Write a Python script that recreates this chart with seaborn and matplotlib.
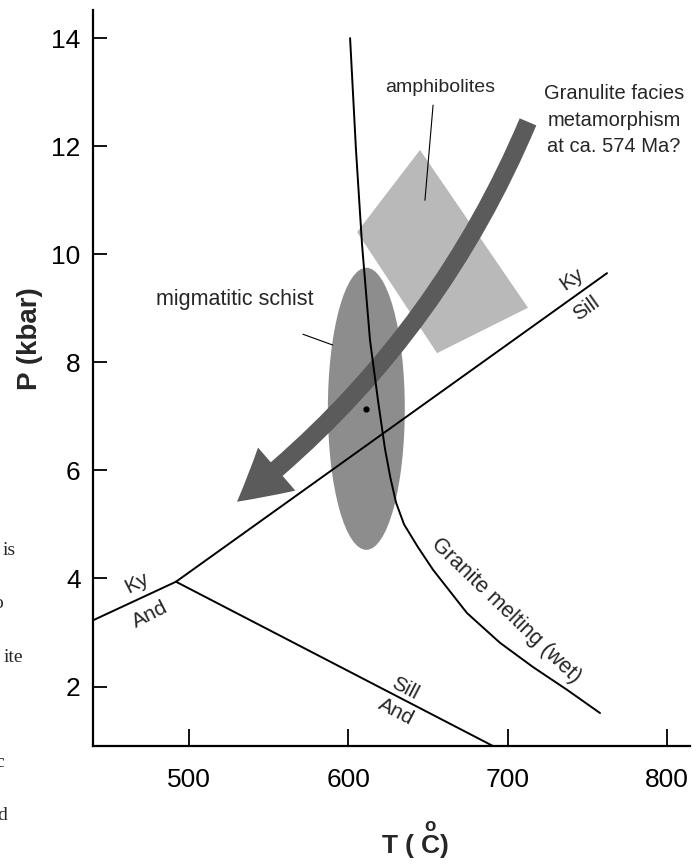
import numpy as np
import seaborn as sns
import matplotlib.pyplot as plt
from matplotlib.patches import Ellipse, FancyArrowPatch

# reaction lines (T in C, P in kbar)
ky_and_T = [440.0, 491.8]
ky_and_P = [3.23, 3.94]
ky_sill_T = [491.8, 762.4]
ky_sill_P = [3.94, 9.65]
and_sill_T = [491.8, 690.8]
and_sill_P = [3.94, 0.90]

# wet granite solidus
granite_T = [601.1, 604.8, 608.6, 613.6, 618.6, 623.0, 626.5, 630.0, 635.0, 643.7,
             653.2, 674.5, 695.2, 716.0, 737.3, 758.0]
granite_P = [14.00, 11.93, 10.18, 8.41, 7.30, 6.40, 5.85, 5.40, 5.00, 4.58,
             4.16, 3.36, 2.81, 2.36, 1.94, 1.51]

# amphibolite field
amph_T = [645.0, 712.8, 655.7, 605.5]
amph_P = [11.93, 9.01, 8.17, 10.41]

# migmatitic schist field (centre, width, height)
schist_center = (611.3, 7.14)
schist_w = 48.3
schist_h = 5.22

# granulite P-T path (start -> end)
path_start = (712.8, 12.45)
path_end = (530.1, 5.42)

x_ticks = [500, 600, 700, 800]
y_ticks = [2, 4, 6, 8, 10, 12, 14]

sns.set_style('ticks')
plt.rcParams['font.family'] = ['Liberation Sans', 'DejaVu Sans']
plt.rcParams['mathtext.fontset'] = 'custom'
plt.rcParams['mathtext.rm'] = 'Liberation Sans'
plt.rcParams['mathtext.bf'] = 'Liberation Sans:bold'

fig = plt.figure(figsize=(7, 8.64), dpi=100)
ax = fig.add_axes([93 / 700, 118 / 864, 597 / 700, 736 / 864])

ax.fill(amph_T, amph_P, color='#b9b9b9', lw=0, zorder=1)
ax.add_patch(Ellipse(schist_center, schist_w, schist_h, color='#8d8d8d', lw=0, zorder=1))

arrow = FancyArrowPatch(posA=path_start, posB=path_end,
                        connectionstyle='arc3,rad=-0.13',
                        arrowstyle='simple,head_width=41,head_length=37,tail_width=13',
                        mutation_scale=1, shrinkA=0, shrinkB=0,
                        color='#5b5b5b', lw=0, zorder=2)
ax.add_patch(arrow)

for tt, pp in [(ky_and_T, ky_and_P), (ky_sill_T, ky_sill_P), (and_sill_T, and_sill_P)]:
    sns.lineplot(x=tt, y=pp, sort=False, color='black', lw=1.4, ax=ax, zorder=3)
sns.lineplot(x=granite_T, y=granite_P, sort=False, color='black', lw=1.4, ax=ax, zorder=3)

ax.plot([611.3], [7.14], 'o', color='black', ms=3.5, zorder=4)

# labels
ax.text(740.2, 9.54, 'Ky', rotation=35.6, ha='center', va='center', fontsize=15, rotation_mode='anchor')
ax.text(749.6, 9.00, 'Sill', rotation=35.6, ha='center', va='center', fontsize=15, rotation_mode='anchor')
ax.text(467.2, 3.91, 'Ky', rotation=27, ha='center', va='center', fontsize=15, rotation_mode='anchor')
ax.text(475.5, 3.33, 'And', rotation=27, ha='center', va='center', fontsize=15, rotation_mode='anchor')
ax.text(635.6, 1.97, 'Sill', rotation=-27.4, ha='center', va='center', fontsize=15, rotation_mode='anchor')
ax.text(630.0, 1.53, 'And', rotation=-27.4, ha='center', va='center', fontsize=15, rotation_mode='anchor')
ax.text(699.0, 3.40, 'Granite melting (wet)', rotation=-44, ha='center', va='center',
        fontsize=15.5, rotation_mode='anchor')

ax.text(657.6, 13.08, 'amphibolites', ha='center', va='center', fontsize=14)
ax.plot([653.2, 648.1], [12.76, 11.0], color='black', lw=0.8, zorder=3)
ax.text(528.9, 9.16, 'migmatitic schist', ha='center', va='center', fontsize=15.5)
ax.plot([571.5, 590.2], [8.52, 8.32], color='black', lw=0.8, zorder=3)
ax.text(766.8, 13.15, 'Granulite facies\nmetamorphism\nat ca. 574 Ma?', ha='center', va='top',
        multialignment='center', fontsize=14.5, linespacing=1.5)

ax.set_xlim(439.7, 814.5)
ax.set_ylim(0.90, 14.52)
ax.set_xticks(x_ticks)
ax.set_yticks(y_ticks)
sns.despine(ax=ax)
for s in ['left', 'bottom']:
    ax.spines[s].set_linewidth(1.6)
    ax.spines[s].set_color('black')
ax.tick_params(axis='x', direction='in', length=12, width=1.3, pad=16, labelsize=19, colors='black')
ax.tick_params(axis='y', direction='in', length=10, width=1.3, pad=9, labelsize=19, colors='black')

ax.set_xlabel(r'T ( $\overset{\mathbf{o}}{\mathbf{C}}$)', fontsize=19, fontweight='bold')
ax.xaxis.set_label_coords(0.539, -0.100)
ax.set_ylabel('P (kbar)', fontsize=20, fontweight='bold')
ax.yaxis.set_label_coords(-0.0838, 0.553)

# fragments of neighbouring page text cut by the left edge
frag_words = ['is', 'o', 'ite', 'c', 'd']
frag_right = [16, 3, 23, 4, 7]
frag_base = [555, 608, 662, 767, 820]
for w, xr, yb in zip(frag_words, frag_right, frag_base):
    fig.text(xr / 700, 1 - yb / 864, w, ha='right', va='baseline', fontsize=14,
             family=['Liberation Serif', 'DejaVu Serif'])

fig.savefig('out.png', dpi=100)
